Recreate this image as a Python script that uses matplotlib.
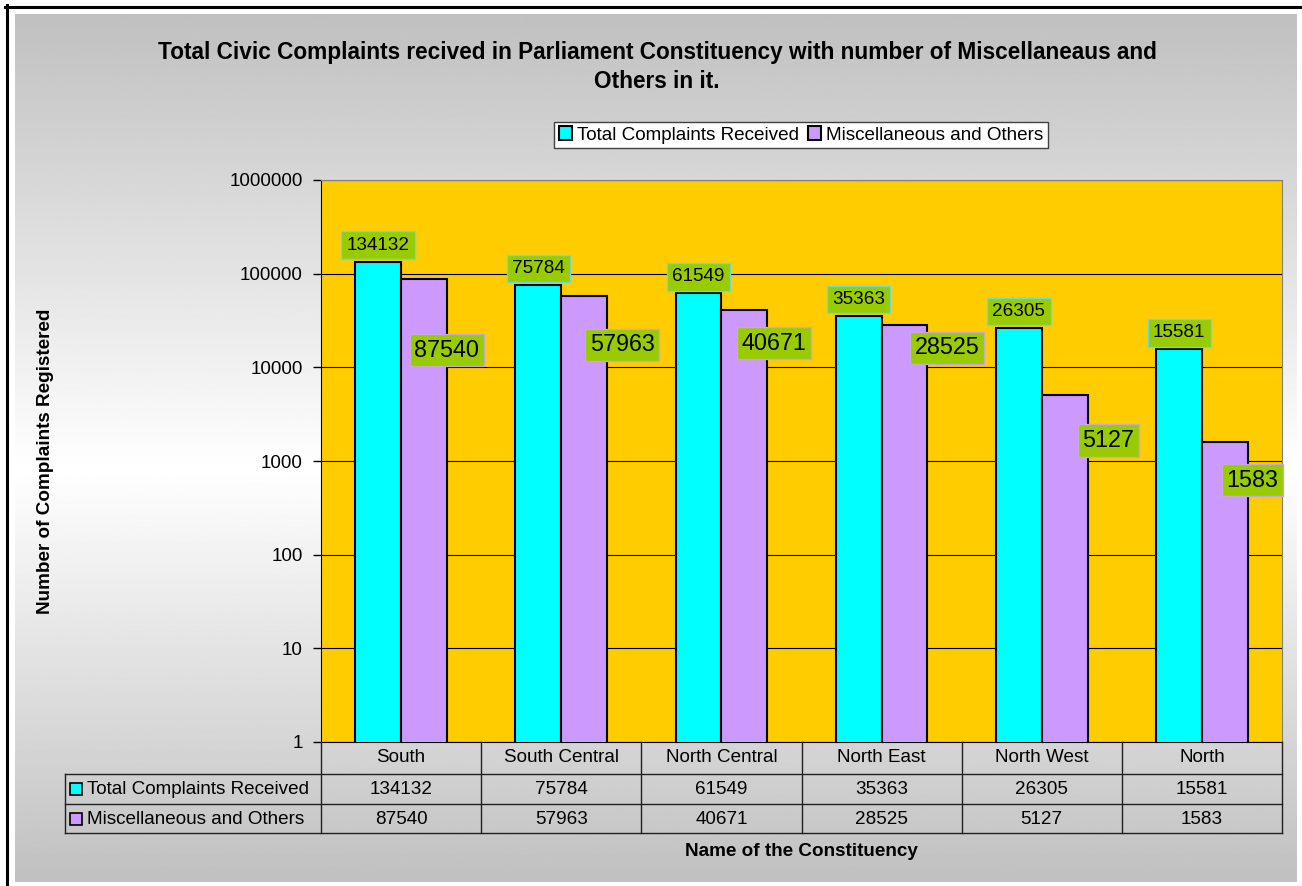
import numpy as np
import matplotlib
matplotlib.use("Agg")
import matplotlib.pyplot as plt
from matplotlib.lines import Line2D
from matplotlib.patches import Rectangle
from matplotlib.ticker import FixedLocator, FuncFormatter, NullLocator

# data
constituencies = ["South", "South Central", "North Central", "North East", "North West", "North"]
total_complaints = [134132, 75784, 61549, 35363, 26305, 15581]
misc_others = [87540, 57963, 40671, 28525, 5127, 1583]
series_names = ["Total Complaints Received", "Miscellaneous and Others"]
title = ("Total Civic Complaints recived in Parliament Constituency with number of Miscellaneaus and\n"
         "Others in it.")

# label nudges (pixels) for the misc labels, as placed in the original
misc_dx = [0, 15, 7, 20, 21, 5]
misc_dy = [-71, -49, -33, -23, -46, -38]

W, H = 1302, 886
plt.rcParams['font.family'] = ['Liberation Sans', 'DejaVu Sans']
FS = 13.6

def fx(px):
    return px / W

def fy(py):
    return 1 - py / H

fig = plt.figure(figsize=(W / 100, H / 100), dpi=100)
fig.patch.set_facecolor('white')

# gradient chart background (gray -> white -> gray)
bg = fig.add_axes([fx(15), fy(882), fx(1297) - fx(15), fy(14) - fy(882)])
t = np.linspace(0, 1, 400)
mid = (470 - 14) / (882 - 14)
g = np.where(t < mid, 0.753 + (1 - 0.753) * t / mid, 1 - (1 - 0.753) * (t - mid) / (1 - mid))
bg.imshow(np.repeat(g[:, None], 2, axis=1), cmap='gray', vmin=0, vmax=1, aspect='auto',
          extent=[0, 1, 0, 1])
bg.axis('off')

# outer black frame (top and left visible)
fig.add_artist(Line2D([fx(5), fx(1302)], [fy(6.5), fy(6.5)], color='black', lw=2.2))
fig.add_artist(Line2D([fx(6.5), fx(6.5)], [fy(5), fy(886)], color='black', lw=2.2))

ax = fig.add_axes([fx(321), fy(742), fx(1282) - fx(321), fy(180) - fy(742)])
ax.set_facecolor('#FFCC00')

x = np.arange(len(constituencies))
w = 2 / 7
b1 = ax.bar(x - w / 2, total_complaints, w, color='#00FFFF', edgecolor='black', lw=1.5, zorder=3)
b2 = ax.bar(x + w / 2, misc_others, w, color='#CC99FF', edgecolor='black', lw=1.5, zorder=3)

ax.set_yscale('log')
ax.set_ylim(1, 1e6)
ax.set_xlim(-0.5, len(constituencies) - 0.5)
ax.yaxis.set_major_locator(FixedLocator([10 ** k for k in range(7)]))
ax.yaxis.set_minor_locator(NullLocator())
ax.yaxis.set_major_formatter(FuncFormatter(lambda v, p: "%d" % round(v)))
ax.tick_params(axis='y', length=6, width=1, pad=7, labelsize=FS, color='black')
ax.set_xticks([])
ax.grid(axis='y', color='black', lw=0.8, zorder=1)
for s in ['top', 'right']:
    ax.spines[s].set_color('#808080')
ax.spines['left'].set_color('black')
ax.spines['bottom'].set_color('black')

# data labels
for xi, v in zip(x, total_complaints):
    ax.annotate(str(v), (xi - w / 2, v), xytext=(0, 8), textcoords='offset pixels',
                ha='center', va='bottom', fontsize=FS, zorder=5,
                bbox=dict(boxstyle='square,pad=0.28', fc='#99CC00', ec='#66DDDD', lw=1))
for xi, v, dx, dy in zip(x, misc_others, misc_dx, misc_dy):
    ax.annotate(str(v), (xi + w, v), xytext=(dx, dy), textcoords='offset pixels',
                ha='center', va='center', fontsize=16.8, zorder=5,
                bbox=dict(boxstyle='square,pad=0.2', fc='#99CC00', ec='#C8A8D8', lw=1))

# titles
fig.text(fx(657), fy(67), title, ha='center', va='center', fontsize=16.3, fontweight='bold',
         linespacing=1.3)
fig.text(fx(46), (fy(180) + fy(742)) / 2, "Number of Complaints Registered", rotation=90,
         ha='center', va='center', fontsize=FS, fontweight='bold')
fig.text(fx(801), fy(851), "Name of the Constituency", ha='center', va='center',
         fontsize=FS, fontweight='bold')

# legend
fig.legend([b1, b2], series_names, loc='center', bbox_to_anchor=(fx(801), fy(135)), ncol=2,
           fontsize=FS, frameon=True, fancybox=False, framealpha=1, edgecolor='#404040',
           handlelength=0.7, handleheight=0.7, handletextpad=0.25, columnspacing=0.5,
           borderpad=0.25, borderaxespad=0)

# data table
rows_y = [742, 774, 804, 833]
lc = '#202020'
for py in rows_y[1:]:
    fig.add_artist(Line2D([fx(65), fx(1282)], [fy(py), fy(py)], color=lc, lw=1))
fig.add_artist(Line2D([fx(65), fx(65)], [fy(774), fy(833)], color=lc, lw=1))
for i in range(len(constituencies) + 1):
    xl = fig.transFigure.inverted().transform(ax.transData.transform((i - 0.5, 1)))[0]
    fig.add_artist(Line2D([xl, xl], [fy(742), fy(833)], color=lc, lw=1))
for i, name in enumerate(constituencies):
    xc = fig.transFigure.inverted().transform(ax.transData.transform((i, 1)))[0]
    fig.text(xc, fy(758), name, ha='center', va='center', fontsize=FS)
    fig.text(xc, fy(789), str(total_complaints[i]), ha='center', va='center', fontsize=FS)
    fig.text(xc, fy(819), str(misc_others[i]), ha='center', va='center', fontsize=FS)
for name, col, py in zip(series_names, ['#00FFFF', '#CC99FF'], [789, 819]):
    fig.add_artist(Rectangle((fx(70), fy(py + 6)), fx(12), fy(0) - fy(12),
                             transform=fig.transFigure, fc=col, ec='black', lw=1.2))
    fig.text(fx(87), fy(py), name, ha='left', va='center', fontsize=FS)

fig.savefig('out.png', dpi=100)
